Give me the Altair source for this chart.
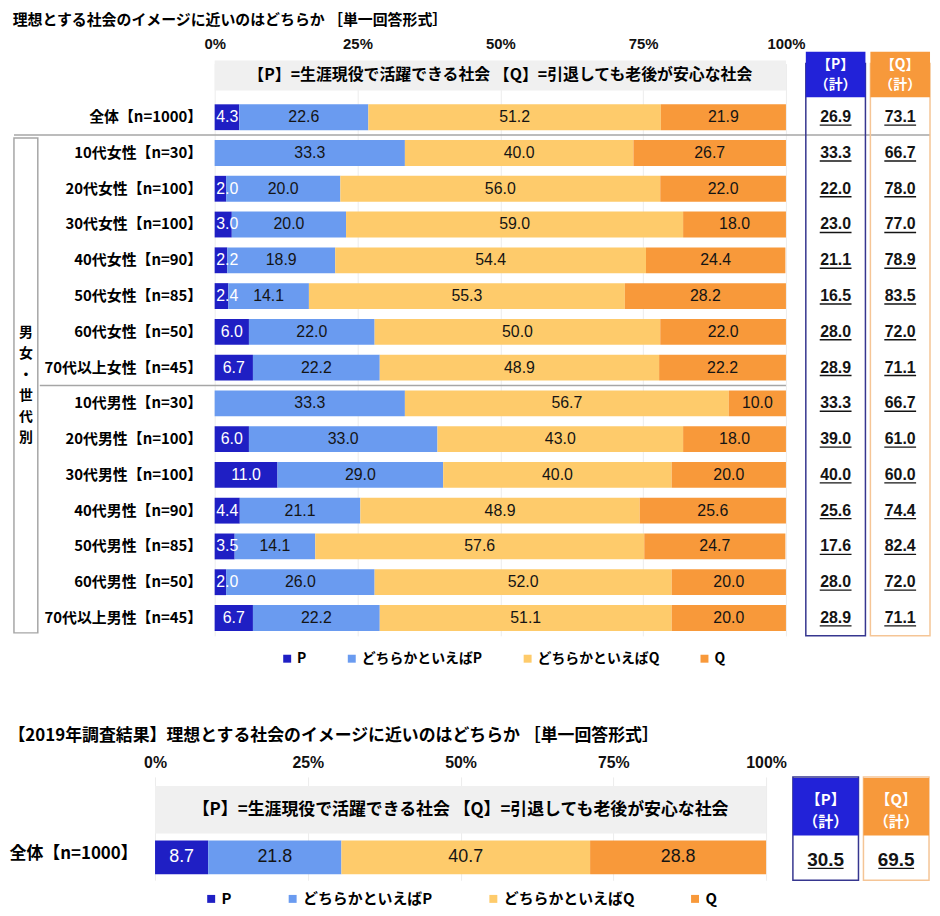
import altair as alt
import pandas as pd

JP = "Noto Sans CJK JP"
NUM = "Liberation Sans"

title_main = "理想とする社会のイメージに近いのはどちらか ［単一回答形式］"
title_2019 = "【2019年調査結果】理想とする社会のイメージに近いのはどちらか ［単一回答形式］"
caption = "【P】=生涯現役で活躍できる社会 【Q】=引退しても老後が安心な社会"

categories = ["P", "どちらかといえばP", "どちらかといえばQ", "Q"]
colors = ["#1f1fc4", "#6a9bf0", "#fecb6b", "#f8993a"]
tick_values = [0, 25, 50, 75, 100]

rows = [
    "全体【n=1000】",
    "10代女性【n=30】", "20代女性【n=100】", "30代女性【n=100】", "40代女性【n=90】",
    "50代女性【n=85】", "60代女性【n=50】", "70代以上女性【n=45】",
    "10代男性【n=30】", "20代男性【n=100】", "30代男性【n=100】", "40代男性【n=90】",
    "50代男性【n=85】", "60代男性【n=50】", "70代以上男性【n=45】",
]
group_label = "男女・世代別"
group_first = "10代女性【n=30】"
group_last = "70代以上男性【n=45】"
male_first = "10代男性【n=30】"

p_vals = [4.3, 0.0, 2.0, 3.0, 2.2, 2.4, 6.0, 6.7, 0.0, 6.0, 11.0, 4.4, 3.5, 2.0, 6.7]
dp_vals = [22.6, 33.3, 20.0, 20.0, 18.9, 14.1, 22.0, 22.2, 33.3, 33.0, 29.0, 21.1, 14.1, 26.0, 22.2]
dq_vals = [51.2, 40.0, 56.0, 59.0, 54.4, 55.3, 50.0, 48.9, 56.7, 43.0, 40.0, 48.9, 57.6, 52.0, 51.1]
q_vals = [21.9, 26.7, 22.0, 18.0, 24.4, 28.2, 22.0, 22.2, 10.0, 18.0, 20.0, 25.6, 24.7, 20.0, 20.0]
p_total = [26.9, 33.3, 22.0, 23.0, 21.1, 16.5, 28.0, 28.9, 33.3, 39.0, 40.0, 25.6, 17.6, 28.0, 28.9]
q_total = [73.1, 66.7, 78.0, 77.0, 78.9, 83.5, 72.0, 71.1, 66.7, 61.0, 60.0, 74.4, 82.4, 72.0, 71.1]

rows_2019 = ["全体【n=1000】"]
p_2019 = [8.7]
dp_2019 = [21.8]
dq_2019 = [40.7]
q_2019 = [28.8]
p_total_2019 = [30.5]
q_total_2019 = [69.5]

HDR = "hdr"


def long_table(row_list, series_list):
    recs = []
    for i, r in enumerate(row_list):
        for k, (cat, vals) in enumerate(zip(categories, series_list)):
            recs.append({"row": r, "cat": cat, "k": k, "value": vals[i]})
    return pd.DataFrame(recs)


def main_panel(row_list, series_list, width, band, bar_size, bar_off, hdr_size, hdr_off,
               fs_label, fs_val, fs_axis, fs_caption, axis_pad, label_pad,
               legend_x, legend_y, legend_fs, legend_pad, seps):
    domain = [HDR] + row_list
    height = band * len(domain)
    yscale = alt.Scale(domain=domain, paddingInner=0, paddingOuter=0)
    xscale = alt.Scale(domain=[0, 100], nice=False)
    y_axis = alt.Axis(title=None, ticks=False, domain=False, labelFont=JP,
                      labelFontSize=fs_label, labelFontWeight="bold", labelColor="#000000",
                      labelPadding=label_pad, labelLimit=400,
                      labelExpr=f"datum.value == '{HDR}' ? '' : datum.value")
    x_axis = alt.Axis(title=None, orient="top", values=tick_values,
                      labelExpr="datum.value + '%'", ticks=False, domain=False,
                      grid=True, gridColor="#ececec", labelFont=NUM, labelFlush=False,
                      labelFontSize=fs_axis, labelFontWeight="bold", labelColor="#111111",
                      labelPadding=axis_pad)
    yenc = alt.Y("row:N", scale=yscale, axis=y_axis)

    hdr = alt.Chart(pd.DataFrame({"row": [HDR], "text": [caption]}))
    hdr_bar = hdr.mark_bar(size=hdr_size, yOffset=hdr_off, color="#f0f0f0").encode(
        x=alt.XDatum(0, type="quantitative", scale=xscale, axis=x_axis),
        x2=alt.X2Datum(100),
        y=yenc,
    )
    hdr_text = hdr.mark_text(font=JP, fontSize=fs_caption, fontWeight="bold",
                             color="#000000", yOffset=hdr_off).encode(
        x=alt.XDatum(50, type="quantitative", scale=xscale, axis=x_axis),
        y=yenc,
        text="text:N",
    )

    df = long_table(row_list, series_list)
    bars = alt.Chart(df).mark_bar(size=bar_size, yOffset=bar_off).encode(
        x=alt.X("value:Q", stack="zero", scale=xscale, axis=x_axis),
        y=yenc,
        color=alt.Color("cat:N", scale=alt.Scale(domain=categories, range=colors),
                        legend=alt.Legend(orient="none", legendX=legend_x, legendY=legend_y,
                                          direction="horizontal", title=None,
                                          symbolType="square", symbolSize=64,
                                          symbolStrokeWidth=0, labelFont=JP,
                                          labelFontSize=legend_fs, labelFontWeight="bold",
                                          labelColor="#000000", columnPadding=legend_pad,
                                          labelOffset=3)),
        order=alt.Order("k:Q"),
    )
    labels = alt.Chart(df).transform_window(
        cum="sum(value)", groupby=["row"], sort=[alt.SortField("k")], frame=[None, 0]
    ).transform_calculate(
        mid="datum.cum - datum.value / 2"
    ).transform_calculate(
        lx="datum.k == 0 ? max(datum.mid, 2.2) : datum.mid"
    ).transform_filter("datum.value > 0").mark_text(
        font=NUM, fontSize=fs_val, yOffset=bar_off).encode(
        x=alt.X("lx:Q", scale=xscale, axis=x_axis),
        y=yenc,
        text=alt.Text("value:Q", format=".1f"),
        color=alt.condition("datum.k == 0", alt.value("#ffffff"), alt.value("#141414")),
    )
    layers = [hdr_bar, hdr_text, bars, labels]
    for row_name, x_from, x_to in seps:
        layers.append(
            alt.Chart(pd.DataFrame({"row": [row_name]})).mark_rule(
                color="#a6a6a6", strokeWidth=1.5).encode(
                y=alt.Y("row:N", bandPosition=0, scale=yscale, axis=y_axis),
                x=alt.value(x_from), x2=alt.value(x_to))
        )
    return alt.layer(*layers).properties(width=width, height=height)


def total_panel(row_list, values, cat, width, band, hdr_size, hdr_off, fill, stroke,
                fs_hdr, line_h, text_dy, fs_val, val_dy, ul_half, ul_off):
    domain = [HDR] + row_list
    height = band * len(domain)
    yscale = alt.Scale(domain=domain, paddingInner=0, paddingOuter=0)
    xs = alt.Scale(domain=[0, 1])
    yenc = alt.Y("row:N", scale=yscale, axis=None)
    hdr = alt.Chart(pd.DataFrame({"row": [HDR], "text": [f"【{cat}】\n（計）"]}))
    hbar = hdr.mark_bar(size=hdr_size, yOffset=hdr_off, color=fill).encode(
        x=alt.XDatum(0, type="quantitative", scale=xs, axis=None),
        x2=alt.X2Datum(1),
        y=yenc,
    )
    htext = hdr.mark_text(lineBreak="\n", font=JP, fontSize=fs_hdr, fontWeight="bold",
                          color="#ffffff", yOffset=hdr_off, dy=text_dy,
                          lineHeight=line_h).encode(
        x=alt.XDatum(0.5, type="quantitative", scale=xs, axis=None),
        y=yenc,
        text="text:N",
    )
    df = pd.DataFrame({"row": row_list, "value": values})
    vtext = alt.Chart(df).mark_text(font=NUM, fontSize=fs_val, fontWeight="bold",
                                    color="#141414", dy=val_dy).encode(
        x=alt.XDatum(0.5, type="quantitative", scale=xs, axis=None),
        y=yenc,
        text=alt.Text("value:Q", format=".1f"),
    )
    ul = alt.Chart(df).mark_rule(color="#141414", strokeWidth=1.4, xOffset=-ul_half,
                                 x2Offset=ul_half, yOffset=ul_off).encode(
        x=alt.XDatum(0.5, type="quantitative", scale=xs, axis=None),
        x2=alt.X2Datum(0.5),
        y=yenc,
    )
    return alt.layer(hbar, htext, vtext, ul).properties(
        width=width, height=height,
        view=alt.ViewBackground(stroke=stroke, strokeWidth=1.5, fill="transparent"))


def spacer(width, height):
    return alt.Chart(pd.DataFrame({"a": [0]})).mark_point(opacity=0).encode(
        x=alt.value(0), y=alt.value(0)).properties(width=width, height=height)


# ---------------- top section ----------------
BAND = 36
TOP_W = 575
top_domain = [HDR] + rows
TOP_H = BAND * len(top_domain)
BRK_LH = 21

brk_df = pd.DataFrame({
    "label": ["\n".join(list(group_label))],
    "start": [top_domain.index(group_first)],
    "end": [top_domain.index(group_last) + 1],
})
brk_df["mid"] = (brk_df["start"] + brk_df["end"]) / 2
brk_y = alt.Scale(domain=[0, len(top_domain)], reverse=True, nice=False, zero=False)
bracket_box = alt.Chart(brk_df).mark_rect(fill="transparent", stroke="#a6a6a6",
                                          strokeWidth=1.5, yOffset=3, y2Offset=-3).encode(
    y=alt.Y("start:Q", scale=brk_y, axis=None), y2="end:Q",
    x=alt.value(0), x2=alt.value(24))
bracket_text = alt.Chart(brk_df).mark_text(
    lineBreak="\n", font=JP, fontSize=14, fontWeight="bold", color="#000000",
    lineHeight=BRK_LH, dy=-(len(group_label) - 1) * BRK_LH / 2).encode(
    y=alt.Y("mid:Q", scale=brk_y, axis=None), x=alt.value(12), text="label:N")
bracket = alt.layer(bracket_box, bracket_text).properties(width=197, height=TOP_H)

main_top = main_panel(
    rows, [p_vals, dp_vals, dq_vals, q_vals], width=TOP_W, band=BAND, bar_size=26,
    bar_off=0, hdr_size=30, hdr_off=-6, fs_label=15, fs_val=16, fs_axis=15,
    fs_caption=16, axis_pad=12, label_pad=13, legend_x=66, legend_y=592, legend_fs=14,
    legend_pad=38, seps=[(group_first, -202, TOP_W + 145), (male_first, -176, TOP_W)],
)
p_top = total_panel(rows, p_total, "P", 60, BAND, 46, -7, "#2222d8", "#36368f",
                    14, 21, -10, 16, 0, 16, 8)
q_top = total_panel(rows, q_total, "Q", 60, BAND, 46, -7, "#f7993b", "#f5c596",
                    14, 21, -10, 16, 0, 16, 8)

top = alt.hconcat(bracket, main_top, spacer(10, TOP_H), p_top, q_top,
                  spacing=5, bounds="flush").resolve_scale(color="independent").properties(
    title=alt.Title(title_main, anchor="start", font=JP, fontSize=15, fontWeight="bold",
                    color="#000000", offset=8))

# ---------------- bottom section ----------------
BAND_B = 52
BOT_W = 615
BOT_H = BAND_B * (1 + len(rows_2019))
main_bot = main_panel(
    rows_2019, [p_2019, dp_2019, dq_2019, q_2019], width=BOT_W, band=BAND_B, bar_size=34,
    bar_off=3, hdr_size=48, hdr_off=7, fs_label=17, fs_val=18, fs_axis=16, fs_caption=17,
    axis_pad=7, label_pad=18, legend_x=49, legend_y=115, legend_fs=15, legend_pad=53,
    seps=[],
)
p_bot = total_panel(rows_2019, p_total_2019, "P", 66, BAND_B, 58, 4, "#2222d8", "#36368f",
                    15, 22, -7, 19, 6, 18, 14)
q_bot = total_panel(rows_2019, q_total_2019, "Q", 66, BAND_B, 58, 4, "#f7993b", "#f5c596",
                    15, 22, -7, 19, 6, 18, 14)

bottom = alt.hconcat(spacer(137, BOT_H), main_bot, spacer(17, BOT_H), p_bot, q_bot,
                     spacing=5, bounds="flush").resolve_scale(color="independent").properties(
    title=alt.Title(title_2019, anchor="start", font=JP, fontSize=17, fontWeight="bold",
                    color="#000000", offset=9))

chart = alt.vconcat(top, bottom, spacing=60).resolve_scale(color="independent").properties(
    padding={"top": 2, "left": 0, "right": 0, "bottom": 0}
).configure_view(stroke="transparent")

chart.save("out.html", embed_options={"renderer": "svg", "actions": False})
